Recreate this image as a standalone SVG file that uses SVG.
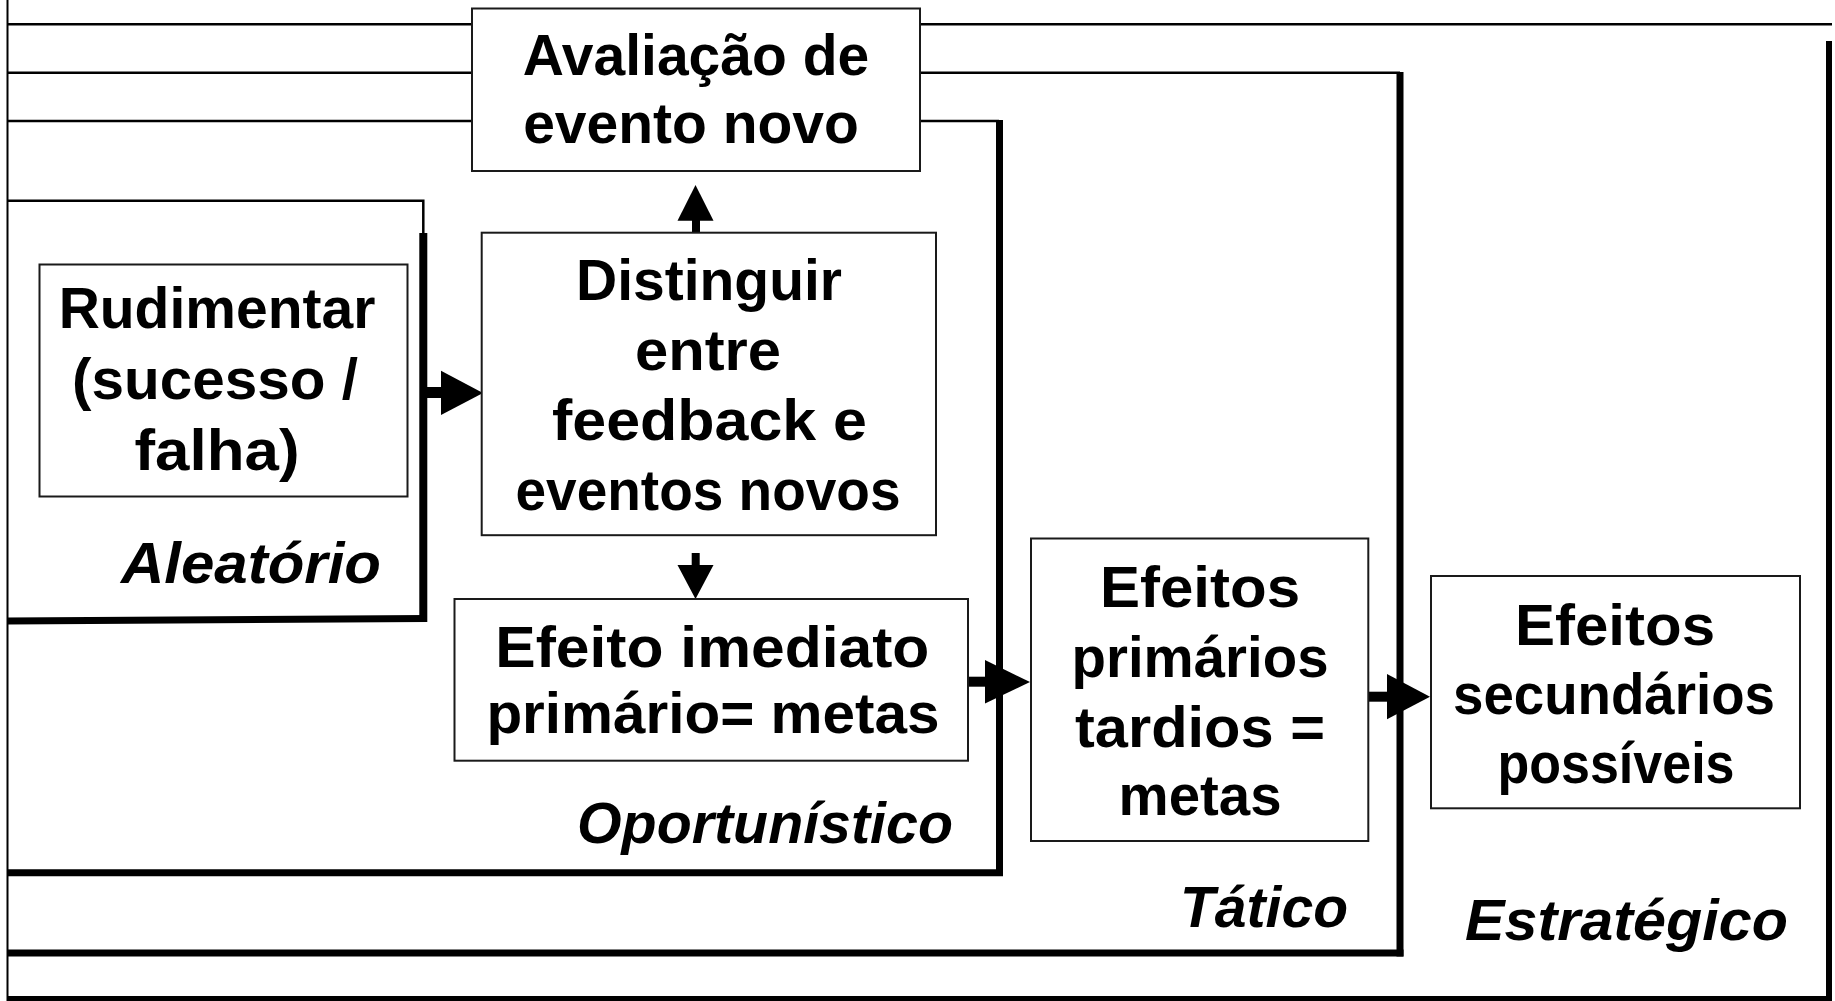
<svg xmlns="http://www.w3.org/2000/svg" width="1835" height="1001" viewBox="0 0 1835 1001">
<style>
  .frame-thin { stroke:#000; stroke-width:2.5; fill:none; }
  .frame-thick { stroke:#000; stroke-width:7; fill:none; }
  .box { fill:#fff; stroke:#1a1a1a; stroke-width:2; }
  .t { font-family:"Liberation Sans", Arial, sans-serif; font-weight:bold; font-size:57px; fill:#000; text-anchor:middle; }
  .lbl { font-family:"Liberation Sans", Arial, sans-serif; font-weight:bold; font-style:italic; font-size:57px; fill:#000; }
  .stem { stroke:#000; fill:none; }
  .head { fill:#000; stroke:none; }
</style>
<rect x="0" y="0" width="1835" height="1001" fill="#fff"/>

<g id="frames">
  <line class="frame-thin" x1="7.5" y1="0" x2="7.5" y2="1001" style="stroke-width:2"/>
  <!-- Estrategico -->
  <line class="frame-thin" x1="7.5" y1="24.3" x2="1832" y2="24.3"/>
  <line class="frame-thick" x1="1829" y1="41" x2="1829" y2="1001" style="stroke-width:6"/>
  <line class="frame-thick" x1="7.5" y1="998.5" x2="1832" y2="998.5" style="stroke-width:5"/>
  <!-- Tatico -->
  <line class="frame-thin" x1="7.5" y1="72.7" x2="1400" y2="72.7"/>
  <line class="frame-thick" x1="1400" y1="72" x2="1400" y2="956.5"/>
  <line class="frame-thick" x1="7.5" y1="953" x2="1403.5" y2="953"/>
  <!-- Oportunistico -->
  <line class="frame-thin" x1="7.5" y1="121" x2="999" y2="121"/>
  <line class="frame-thick" x1="999.5" y1="120" x2="999.5" y2="876"/>
  <line class="frame-thick" x1="7.5" y1="872.7" x2="1003" y2="872.7"/>
  <!-- Aleatorio -->
  <polyline class="frame-thin" points="7.5,200.7 423.3,200.7 423.3,234"/>
  <line class="frame-thick" x1="423.3" y1="233" x2="423.3" y2="622" style="stroke-width:8"/>
  <line class="frame-thick" x1="7.5" y1="621" x2="427" y2="618.5"/>
</g>

<g id="connectors">
  <!-- Aleatorio -> Distinguir -->
  <line class="stem" x1="427" y1="392.5" x2="442" y2="392.5" style="stroke-width:11"/>
  <polygon class="head" points="441,370.7 483,393 441,415"/>
  <!-- Distinguir -> Avaliacao -->
  <line class="stem" x1="696" y1="233" x2="696" y2="219" style="stroke-width:8"/>
  <polygon class="head" points="677.5,220.7 695.5,185 713.5,220.7"/>
  <!-- Distinguir -> Efeito imediato -->
  <line class="stem" x1="695.7" y1="553" x2="695.7" y2="566" style="stroke-width:8"/>
  <polygon class="head" points="677.5,565 713.5,565 695.5,599"/>
  <!-- Efeito imediato -> Efeitos primarios -->
  <line class="stem" x1="968" y1="681.7" x2="986" y2="681.7" style="stroke-width:10"/>
  <polygon class="head" points="985,660 1030,682 985,703.5"/>
  <!-- Efeitos primarios -> Efeitos secundarios -->
  <line class="stem" x1="1368" y1="696.7" x2="1388" y2="696.7" style="stroke-width:10"/>
  <polygon class="head" points="1387,674 1430,696.7 1387,719.3"/>
</g>

<g id="node-avaliacao">
  <rect class="box" x="472" y="8.5" width="448" height="162.5"/>
  <text class="t" x="696" y="75">Avaliação de</text>
  <text class="t" x="691" y="143">evento novo</text>
</g>

<g id="node-rudimentar">
  <rect class="box" x="39.5" y="264.5" width="368" height="232"/>
  <text class="t" x="217" y="328">Rudimentar</text>
  <text class="t" x="215" y="399" textLength="286" lengthAdjust="spacingAndGlyphs">(sucesso /</text>
  <text class="t" x="217" y="470" textLength="165" lengthAdjust="spacingAndGlyphs">falha)</text>
</g>

<g id="node-distinguir">
  <rect class="box" x="481.7" y="232.7" width="454.3" height="302.5"/>
  <text class="t" x="709" y="300">Distinguir</text>
  <text class="t" x="708" y="370" textLength="146" lengthAdjust="spacingAndGlyphs">entre</text>
  <text class="t" x="709.5" y="440" textLength="315" lengthAdjust="spacingAndGlyphs">feedback e</text>
  <text class="t" x="708" y="510" textLength="385" lengthAdjust="spacingAndGlyphs">eventos novos</text>
</g>

<g id="node-efeito-imediato">
  <rect class="box" x="454.5" y="599" width="513.5" height="161.7"/>
  <text class="t" x="712.3" y="666.7" textLength="434" lengthAdjust="spacingAndGlyphs">Efeito imediato</text>
  <text class="t" x="712.9" y="733.3" textLength="453" lengthAdjust="spacingAndGlyphs">primário= metas</text>
</g>

<g id="node-efeitos-primarios">
  <rect class="box" x="1031" y="538.5" width="337.3" height="302.5"/>
  <text class="t" x="1200" y="606.7" textLength="200" lengthAdjust="spacingAndGlyphs">Efeitos</text>
  <text class="t" x="1200" y="676.7" textLength="257" lengthAdjust="spacingAndGlyphs">primários</text>
  <text class="t" x="1200" y="746.7" textLength="250" lengthAdjust="spacingAndGlyphs">tardios =</text>
  <text class="t" x="1200" y="815" textLength="163" lengthAdjust="spacingAndGlyphs">metas</text>
</g>

<g id="node-efeitos-secundarios">
  <rect class="box" x="1431" y="576" width="369" height="232.3"/>
  <text class="t" x="1615" y="645" textLength="200" lengthAdjust="spacingAndGlyphs">Efeitos</text>
  <text class="t" x="1614" y="714" textLength="322" lengthAdjust="spacingAndGlyphs">secundários</text>
  <text class="t" x="1616" y="783" textLength="237" lengthAdjust="spacingAndGlyphs">possíveis</text>
</g>

<g id="labels">
  <text class="lbl" x="121" y="583" textLength="260" lengthAdjust="spacingAndGlyphs">Aleatório</text>
  <text class="lbl" x="577" y="843" textLength="376" lengthAdjust="spacingAndGlyphs">Oportunístico</text>
  <text class="lbl" x="1180" y="927" textLength="168" lengthAdjust="spacingAndGlyphs">Tático</text>
  <text class="lbl" x="1465" y="940" textLength="323" lengthAdjust="spacingAndGlyphs">Estratégico</text>
</g>
</svg>
